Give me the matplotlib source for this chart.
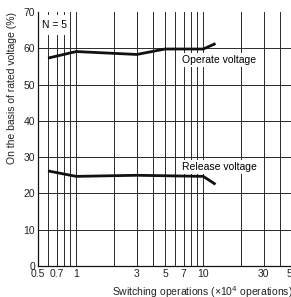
import matplotlib
matplotlib.use('Agg')
import matplotlib.pyplot as plt
from matplotlib.patches import Rectangle

plt.rcParams['font.family'] = ['Liberation Sans', 'DejaVu Sans']

# Switching operations (x10^4) and voltage in % of rated voltage
operate_x = [0.6, 1, 3, 5, 10, 12.5]
operate_y = [57.3, 59.1, 58.3, 59.8, 59.8, 61.3]
release_x = [0.6, 1, 3, 10, 12.5]
release_y = [26.2, 24.7, 25.0, 24.7, 22.5]

grid_x = [0.5, 0.6, 0.7, 0.8, 0.9, 1, 2, 3, 4, 5, 6, 7, 8, 9, 10, 20, 30, 40, 50]
label_x = {0.5: '0.5', 0.7: '0.7', 1: '1', 3: '3', 5: '5', 7: '7',
           10: '10', 30: '30', 50: '50'}
y_ticks = [0, 10, 20, 30, 40, 50, 60, 70]

fs = 7.5

fig = plt.figure(figsize=(2.91, 2.97), dpi=100)
ax = fig.add_axes([38 / 291, 31 / 297, 254 / 291, 254 / 297])

ax.set_xscale('log')
ax.set_xlim(0.5, 50)
ax.set_ylim(0, 70)
ax.minorticks_off()
ax.set_xticks(grid_x)
ax.set_xticklabels([label_x.get(v, '') for v in grid_x])
ax.set_yticks(y_ticks)
ax.tick_params(length=0, labelsize=fs, pad=2, colors='#222222')
ax.grid(True, color='#2a2a2a', linewidth=0.7)
ax.get_ygridlines()[-1].set_visible(False)

for s in ['top', 'right']:
    ax.spines[s].set_visible(False)
for s in ['left', 'bottom']:
    ax.spines[s].set_color('#111111')
    ax.spines[s].set_linewidth(0.9)

ax.plot(operate_x, operate_y, color='#111111', lw=2, zorder=3, solid_capstyle='butt')
ax.plot(release_x, release_y, color='#111111', lw=2, zorder=3, solid_capstyle='butt')

# white box behind "N = 5"
ax.add_patch(Rectangle((0, (266 - 35) / 254), 30 / 254, 20 / 254, transform=ax.transAxes,
                       facecolor='white', edgecolor='none', zorder=2.5))
ax.text(4 / 254, (266 - 25) / 254, 'N = 5', transform=ax.transAxes, fontsize=fs,
        ha='left', va='center', zorder=4)

box = dict(facecolor='white', edgecolor='none', pad=1.5)
ax.text(13.4, 56.8, 'Operate voltage', fontsize=fs, ha='center', va='center',
        bbox=box, zorder=4)
ax.text(13.4, 27.3, 'Release voltage', fontsize=fs, ha='center', va='center',
        bbox=box, zorder=4)

fig.text(12 / 291, 1 - 88 / 297, 'On the basis of rated voltage (%)', rotation=90,
         fontsize=fs, ha='center', va='center', color='#222222')
fig.text(112 / 291, 1 - 292 / 297, 'Switching operations (\u00d710$^4$ operations)',
         fontsize=fs, ha='left', va='center', color='#222222')

fig.savefig('out.png', dpi=100)
